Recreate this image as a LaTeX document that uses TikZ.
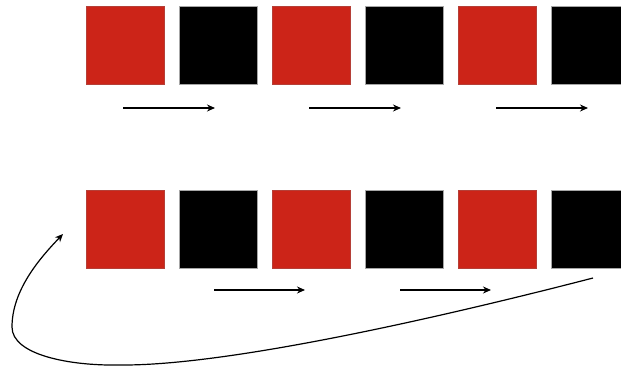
\documentclass[tikz,border=0pt]{standalone}
\usetikzlibrary{arrows.meta}
\definecolor{sqred}{RGB}{204,36,24}
\begin{document}
\begin{tikzpicture}[x=1pt,y=-1pt,
  sq/.style={minimum size=78pt,inner sep=0pt,outer sep=0pt,draw=black!35,line width=0.4pt},
  redsq/.style={sq,fill=sqred,draw=sqred!70!gray},
  blksq/.style={sq,fill=black},
  arr/.style={line width=1.2pt,-{Stealth[length=8pt,width=7pt]}}]
\useasboundingbox (0,0) rectangle (621,369);
\clip (0,0) rectangle (621,369);
% squares
\foreach \i/\c in {1/redsq,2/blksq,3/redsq,4/blksq,5/redsq,6/blksq}{
  \node[\c] (t\i) at ({125+93*(\i-1)},45) {};
  \node[\c] (b\i) at ({125+93*(\i-1)},229.5) {};
}
% top arrows
\coordinate (ta1s) at (123,108); \coordinate (ta1e) at (215,108);
\coordinate (ta2s) at (309,108); \coordinate (ta2e) at (401,108);
\coordinate (ta3s) at (496,108); \coordinate (ta3e) at (588,108);
\draw[arr] (ta1s) -- (ta1e);
\draw[arr] (ta2s) -- (ta2e);
\draw[arr] (ta3s) -- (ta3e);
% bottom arrows
\coordinate (ba1s) at (214,290); \coordinate (ba1e) at (305,290);
\coordinate (ba2s) at (400,290); \coordinate (ba2e) at (491,290);
\draw[arr] (ba1s) -- (ba1e);
\draw[arr] (ba2s) -- (ba2e);
% return curve
\coordinate (cs) at (593,278);
\coordinate (cm) at (120,365);
\coordinate (cl) at (12,327);
\coordinate (ce) at (63,234);
\draw[arr] (cs) .. controls (450,315) and (230,366) .. (cm)
  .. controls (70,366) and (12,355) .. (cl)
  .. controls (12,290) and (40,258) .. (ce);
\end{tikzpicture}
\end{document}
